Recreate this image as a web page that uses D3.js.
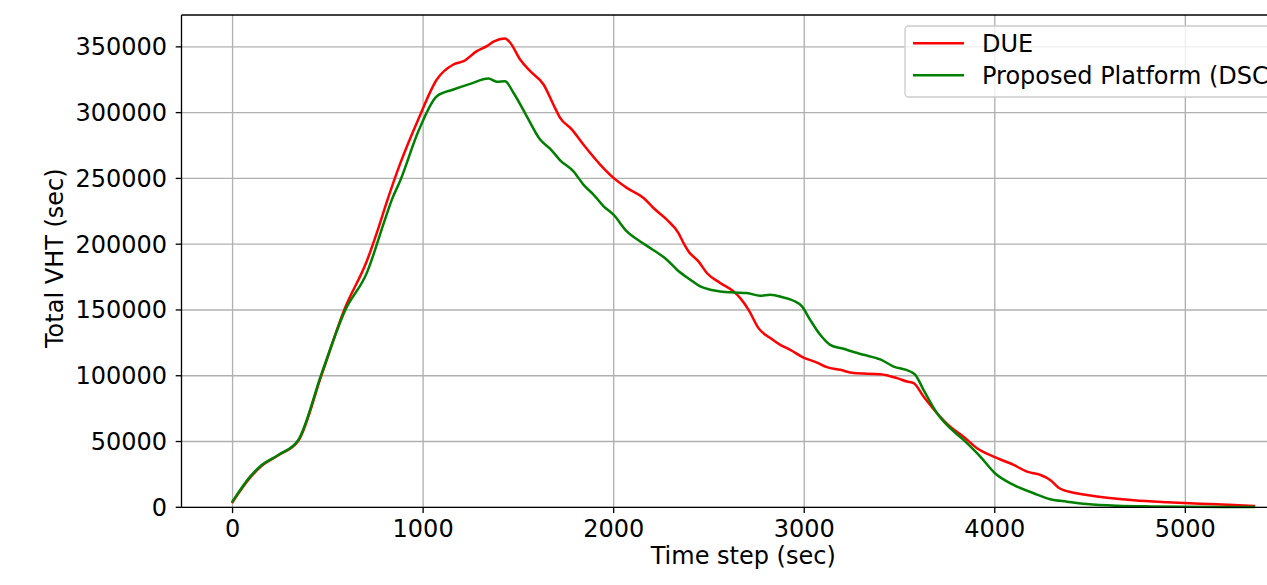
<!DOCTYPE html>
<html>
<head>
<meta charset="utf-8">
<script src="https://cdn.jsdelivr.net/npm/d3@7"></script>
<style>
  body { margin: 0; background: #fff; }
  svg { display: block; font-family: "DejaVu Sans", sans-serif; }
</style>
</head>
<body>
<script>
// DUE curve (red)
var dueTime = [0, 92, 153, 240, 345, 468, 590, 704, 760, 809, 879, 975, 1072, 1159, 1212, 1282, 1334, 1369, 1430,
  1457, 1509, 1562, 1632, 1684, 1719, 1781, 1841, 1929, 1999, 2069, 2157, 2209, 2279, 2340, 2366, 2393, 2445, 2489,
  2559, 2629, 2664, 2708, 2760, 2822, 2874, 2927, 2996, 3067, 3119, 3189, 3259, 3399, 3487, 3539, 3574, 3626, 3697,
  3766, 3836, 3907, 3994, 4099, 4169, 4239, 4291, 4335, 4414, 4484, 4589, 4729, 4904, 5079, 5254, 5360];
var dueVht = [4000, 22500, 31500, 39500, 50500, 101000, 151500, 187000, 210000, 232000, 261000, 295000, 325200,
  336600, 339100, 346700, 350500, 353900, 356400, 353100, 340400, 331500, 321400, 306000, 296000, 287100, 275700,
  260500, 250400, 242800, 235100, 227500, 218600, 208500, 201000, 194500, 186900, 178100, 170500, 164100, 159000,
  150100, 136200, 128600, 123500, 119700, 113800, 110000, 106500, 104500, 102000, 101200, 98200, 95600, 94400, 84200,
  71500, 61300, 53700, 44900, 38500, 32200, 27100, 24600, 20800, 14900, 11100, 9400, 7300, 5300, 3800, 2700, 1750, 1000];

// Proposed platform curve (green)
var dscTime = [0, 92, 153, 240, 345, 468, 590, 704, 800, 836, 879, 975, 1072, 1159, 1247, 1343, 1387, 1430, 1474, 1544,
  1614, 1667, 1719, 1789, 1841, 1894, 1946, 1999, 2069, 2139, 2192, 2279, 2332, 2402, 2454, 2507, 2559, 2629, 2699,
  2769, 2822, 2891, 2944, 2988, 3031, 3084, 3136, 3206, 3259, 3311, 3399, 3469, 3556, 3583, 3626, 3697, 3766, 3836,
  3907, 3924, 4001, 4099, 4204, 4291, 4379, 4484, 4641, 4816, 5360];
var dscVht = [4500, 23300, 32200, 39800, 51200, 102000, 149500, 178000, 218800, 233900, 248000, 285800, 312500, 317600,
  321900, 325900, 323400, 323900, 315100, 297200, 279500, 272500, 263800, 255400, 245300, 237700, 229000, 222400,
  209700, 202100, 197100, 188200, 180600, 173000, 167900, 165400, 164100, 163300, 162900, 160800, 161600, 159500,
  157000, 152700, 142500, 131100, 123500, 120500, 118000, 115900, 112400, 107000, 103200, 100700, 89300, 71500, 60100,
  51200, 41100, 38500, 25900, 17000, 10700, 6100, 4300, 2500, 1200, 700, 200];

var seriesNames = ["DUE", "Proposed Platform (DSC)"];
var seriesColors = ["#ff0000", "#008000"];
var xTicks = [0, 1000, 2000, 3000, 4000, 5000];
var yTicks = [0, 50000, 100000, 150000, 200000, 250000, 300000, 350000];

var W = 1267, H = 585;
var pL = 181.5, pT = 15, pB = 507.3, pR = 1305;
var fs = 24;

var svg = d3.select("body").append("svg").attr("width", W).attr("height", H);

var tMax = d3.max(dueTime.concat(dscTime));
var vAll = dueVht.concat(dscVht);
var vMax = d3.max(vAll), vMin = d3.min(vAll);

var x = d3.scaleLinear().domain([-0.05 * tMax, tMax * 1.05]).range([pL, pR]);
var y = d3.scaleLinear().domain([0, vMax + 0.05 * (vMax - vMin)]).range([pB, pT]);

// grid
var grid = svg.append("g").attr("stroke", "#b0b0b0").attr("stroke-width", 1.33);
xTicks.forEach(function (t) {
  grid.append("line").attr("x1", x(t)).attr("x2", x(t)).attr("y1", pT).attr("y2", pB);
});
yTicks.forEach(function (t) {
  grid.append("line").attr("x1", pL).attr("x2", pR).attr("y1", y(t)).attr("y2", y(t));
});

// curves
var series = [
  { name: seriesNames[0], color: seriesColors[0], pts: dueTime.map(function (t, i) { return [t, dueVht[i]]; }) },
  { name: seriesNames[1], color: seriesColors[1], pts: dscTime.map(function (t, i) { return [t, dscVht[i]]; }) }
];
var line = d3.line()
  .x(function (d) { return x(d[0]); })
  .y(function (d) { return y(d[1]); })
  .curve(d3.curveMonotoneX);

svg.append("g").selectAll("path").data(series).enter().append("path")
  .attr("d", function (d) { return line(d.pts); })
  .attr("fill", "none")
  .attr("stroke", function (d) { return d.color; })
  .attr("stroke-width", 2.5)
  .attr("stroke-linejoin", "round")
  .attr("stroke-linecap", "square");

// spines
var sp = svg.append("g").attr("stroke", "#000").attr("stroke-width", 1.33).attr("fill", "none");
sp.append("line").attr("x1", pL).attr("x2", pL).attr("y1", pT).attr("y2", pB);
sp.append("line").attr("x1", pL).attr("x2", pR).attr("y1", pT).attr("y2", pT);
sp.append("line").attr("x1", pL).attr("x2", pR).attr("y1", pB).attr("y2", pB);

// ticks + labels
var tk = svg.append("g");
xTicks.forEach(function (t) {
  tk.append("line").attr("x1", x(t)).attr("x2", x(t)).attr("y1", pB).attr("y2", pB + 5.8)
    .attr("stroke", "#000").attr("stroke-width", 1.33);
  tk.append("text").attr("x", x(t)).attr("y", pB + 30).attr("text-anchor", "middle")
    .attr("font-size", fs).attr("fill", "#000").text(t);
});
yTicks.forEach(function (t) {
  tk.append("line").attr("x1", pL - 5.8).attr("x2", pL).attr("y1", y(t)).attr("y2", y(t))
    .attr("stroke", "#000").attr("stroke-width", 1.33);
  tk.append("text").attr("x", pL - 14.5).attr("y", y(t) + 8.4).attr("text-anchor", "end")
    .attr("font-size", fs).attr("fill", "#000").text(t);
});

// axis titles
svg.append("text").attr("x", (pL + pR) / 2).attr("y", 564).attr("text-anchor", "middle")
  .attr("font-size", fs).text("Time step (sec)");
svg.append("text").attr("transform", "translate(63," + ((pT + pB) / 2 - 3) + ") rotate(-90)")
  .attr("text-anchor", "middle").attr("font-size", fs).text("Total VHT (sec)");

// legend
var lg = svg.append("g");
lg.append("rect").attr("x", 905).attr("y", 26).attr("width", 420).attr("height", 71)
  .attr("rx", 3.5).attr("fill", "#fff").attr("fill-opacity", 0.8)
  .attr("stroke", "#cccccc").attr("stroke-width", 1.33);
series.forEach(function (s, i) {
  var ly = 43.3 + i * 32;
  lg.append("line").attr("x1", 913).attr("x2", 964).attr("y1", ly).attr("y2", ly)
    .attr("stroke", s.color).attr("stroke-width", 2.5);
  lg.append("text").attr("x", 982).attr("y", ly + 8.5).attr("font-size", fs).text(s.name);
});
</script>
</body>
</html>
